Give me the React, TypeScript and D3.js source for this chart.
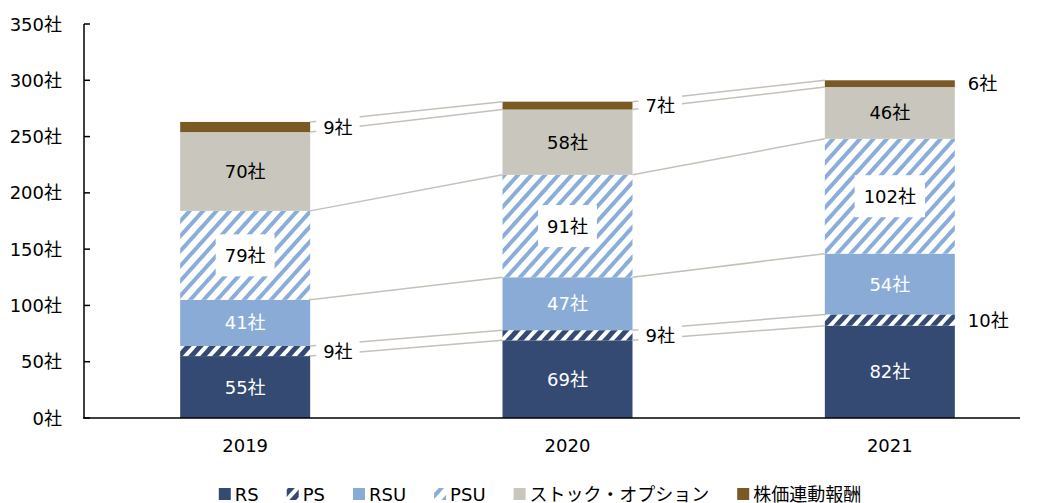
import React, { useEffect, useRef } from 'react';
import * as d3 from 'd3';

const years = ['2019', '2020', '2021'];
const seriesNames = ['RS', 'PS', 'RSU', 'PSU', 'ストック・オプション', '株価連動報酬'];
const rsValues = [55, 69, 82];
const psValues = [9, 9, 10];
const rsuValues = [41, 47, 54];
const psuValues = [79, 91, 102];
const stockValues = [70, 58, 46];
const kabukaValues = [9, 7, 6];
const yTicks = [0, 50, 100, 150, 200, 250, 300, 350];

const W = 1045;
const H = 503;
const FONT = "'DejaVu Sans', 'Noto Sans CJK JP', sans-serif";

const colors = ['#344A72', '#344A72', '#8AABD6', '#8AADD9', '#C9C6BD', '#7A5A24'];
const fills = ['#344A72', 'url(#patPS)', '#8AABD6', 'url(#patPSU)', '#C9C6BD', '#7A5A24'];
const labelColors = ['#ffffff', '#000', '#ffffff', '#000', '#000', '#000'];
const outside = [false, true, false, false, false, true];

export default function App() {
  const ref = useRef<SVGSVGElement | null>(null);

  useEffect(() => {
    const svg = d3.select(ref.current);
    svg.selectAll('*').remove();

    const defs = svg.append('defs');
    const mkPat = (id: string, fg: string, size: number, sw: number) => {
      const p = defs.append('pattern').attr('id', id).attr('patternUnits', 'userSpaceOnUse')
        .attr('width', size).attr('height', size).attr('patternTransform', 'rotate(42)');
      p.append('rect').attr('width', size).attr('height', size).attr('fill', '#fff');
      p.append('rect').attr('x', 0).attr('y', 0).attr('width', sw).attr('height', size).attr('fill', fg);
    };
    mkPat('patPS', '#344A72', 9, 5);
    mkPat('patPSU', '#8AADD9', 10, 4);

    const rows = years.map((y, i) => ({
      year: y,
      s0: rsValues[i], s1: psValues[i], s2: rsuValues[i], s3: psuValues[i], s4: stockValues[i], s5: kabukaValues[i],
    }));
    const keys = ['s0', 's1', 's2', 's3', 's4', 's5'];
    const stacked = d3.stack<any>().keys(keys)(rows);

    const y = d3.scaleLinear().domain([0, 350]).range([418, 24]);
    const x = d3.scaleBand().domain(years).range([84, 1051]).padding(0);
    const barW = 130;
    const bx = (yr: string) => (x(yr) as number) + (x.bandwidth() - barW) / 2;

    const g = svg.append('g').style('font-family', FONT);

    // bars
    stacked.forEach((layer, k) => {
      layer.forEach((d, i) => {
        g.append('rect')
          .attr('x', bx(years[i]))
          .attr('y', y(d[1]))
          .attr('width', barW)
          .attr('height', y(d[0]) - y(d[1]))
          .attr('fill', fills[k]);
      });
    });

    // series lines
    for (let i = 0; i < years.length - 1; i++) {
      stacked.forEach((layer) => {
        g.append('line')
          .attr('x1', bx(years[i]) + barW)
          .attr('y1', y(layer[i][1]))
          .attr('x2', bx(years[i + 1]))
          .attr('y2', y(layer[i + 1][1]))
          .attr('stroke', '#C5C1B8')
          .attr('stroke-width', 1.5);
      });
    }

    // axes
    const yAxis = g.append('g');
    yAxis.append('line').attr('x1', 84).attr('x2', 84).attr('y1', y(350)).attr('y2', y(0))
      .attr('stroke', '#000').attr('stroke-width', 1.5);
    yTicks.forEach((t) => {
      yAxis.append('line').attr('x1', 84).attr('x2', 90).attr('y1', y(t)).attr('y2', y(t))
        .attr('stroke', '#000').attr('stroke-width', 1.5);
      yAxis.append('text').attr('x', 62).attr('y', y(t)).attr('text-anchor', 'end')
        .attr('dominant-baseline', 'central').attr('font-size', 18).attr('fill', '#000')
        .text(`${t}社`);
    });
    g.append('line').attr('x1', 83).attr('x2', 1020).attr('y1', y(0)).attr('y2', y(0))
      .attr('stroke', '#000').attr('stroke-width', 1.5);
    years.forEach((yr) => {
      g.append('text').attr('x', bx(yr) + barW / 2).attr('y', 445).attr('text-anchor', 'middle')
        .attr('dominant-baseline', 'central').attr('font-size', 18).attr('fill', '#000').text(yr);
    });

    // labels
    stacked.forEach((layer, k) => {
      layer.forEach((d, i) => {
        const val = d[1] - d[0];
        const cy = y((d[0] + d[1]) / 2);
        const txt = `${val}社`;
        if (outside[k]) {
          const tx = bx(years[i]) + barW + 13;
          const t = g.append('text').attr('x', tx).attr('y', cy).attr('dominant-baseline', 'central')
            .attr('font-size', 18).attr('fill', '#000').text(txt);
          const w = (t.node() as SVGTextElement).getComputedTextLength();
          if (i < years.length - 1) {
            g.insert('rect', () => t.node() as any)
              .attr('x', tx - 7).attr('y', cy - 12).attr('width', w + 14).attr('height', 24).attr('fill', '#fff');
          }
        } else {
          const cx = bx(years[i]) + barW / 2;
          const t = g.append('text').attr('x', cx).attr('y', cy).attr('text-anchor', 'middle')
            .attr('dominant-baseline', 'central').attr('font-size', 18).attr('fill', labelColors[k]).text(txt);
          if (k === 3) {
            const w = (t.node() as SVGTextElement).getComputedTextLength();
            g.insert('rect', () => t.node() as any)
              .attr('x', cx - w / 2 - 9).attr('y', cy - 21).attr('width', w + 18).attr('height', 42).attr('fill', '#fff');
          }
        }
      });
    });

    // legend
    const lg = g.append('g');
    let cur = 0;
    const items: { sq: number; txt: number }[] = [];
    seriesNames.forEach((name, k) => {
      const sq = cur;
      const t = lg.append('text').attr('x', sq + 16).attr('y', 494).attr('dominant-baseline', 'central')
        .attr('font-size', 18).attr('fill', '#000').text(name);
      lg.append('rect').attr('x', sq).attr('y', 488).attr('width', 12).attr('height', 12)
        .attr('fill', fills[k]);
      const w = (t.node() as SVGTextElement).getComputedTextLength();
      items.push({ sq, txt: w });
      cur = sq + 16 + w + 28;
    });
    const total = cur - 28;
    lg.attr('transform', `translate(${540 - total / 2},0)`);
  }, []);

  return (
    <svg ref={ref} width={W} height={H} style={{ position: 'absolute', left: 0, top: 0, background: '#fff' }} />
  );
}
